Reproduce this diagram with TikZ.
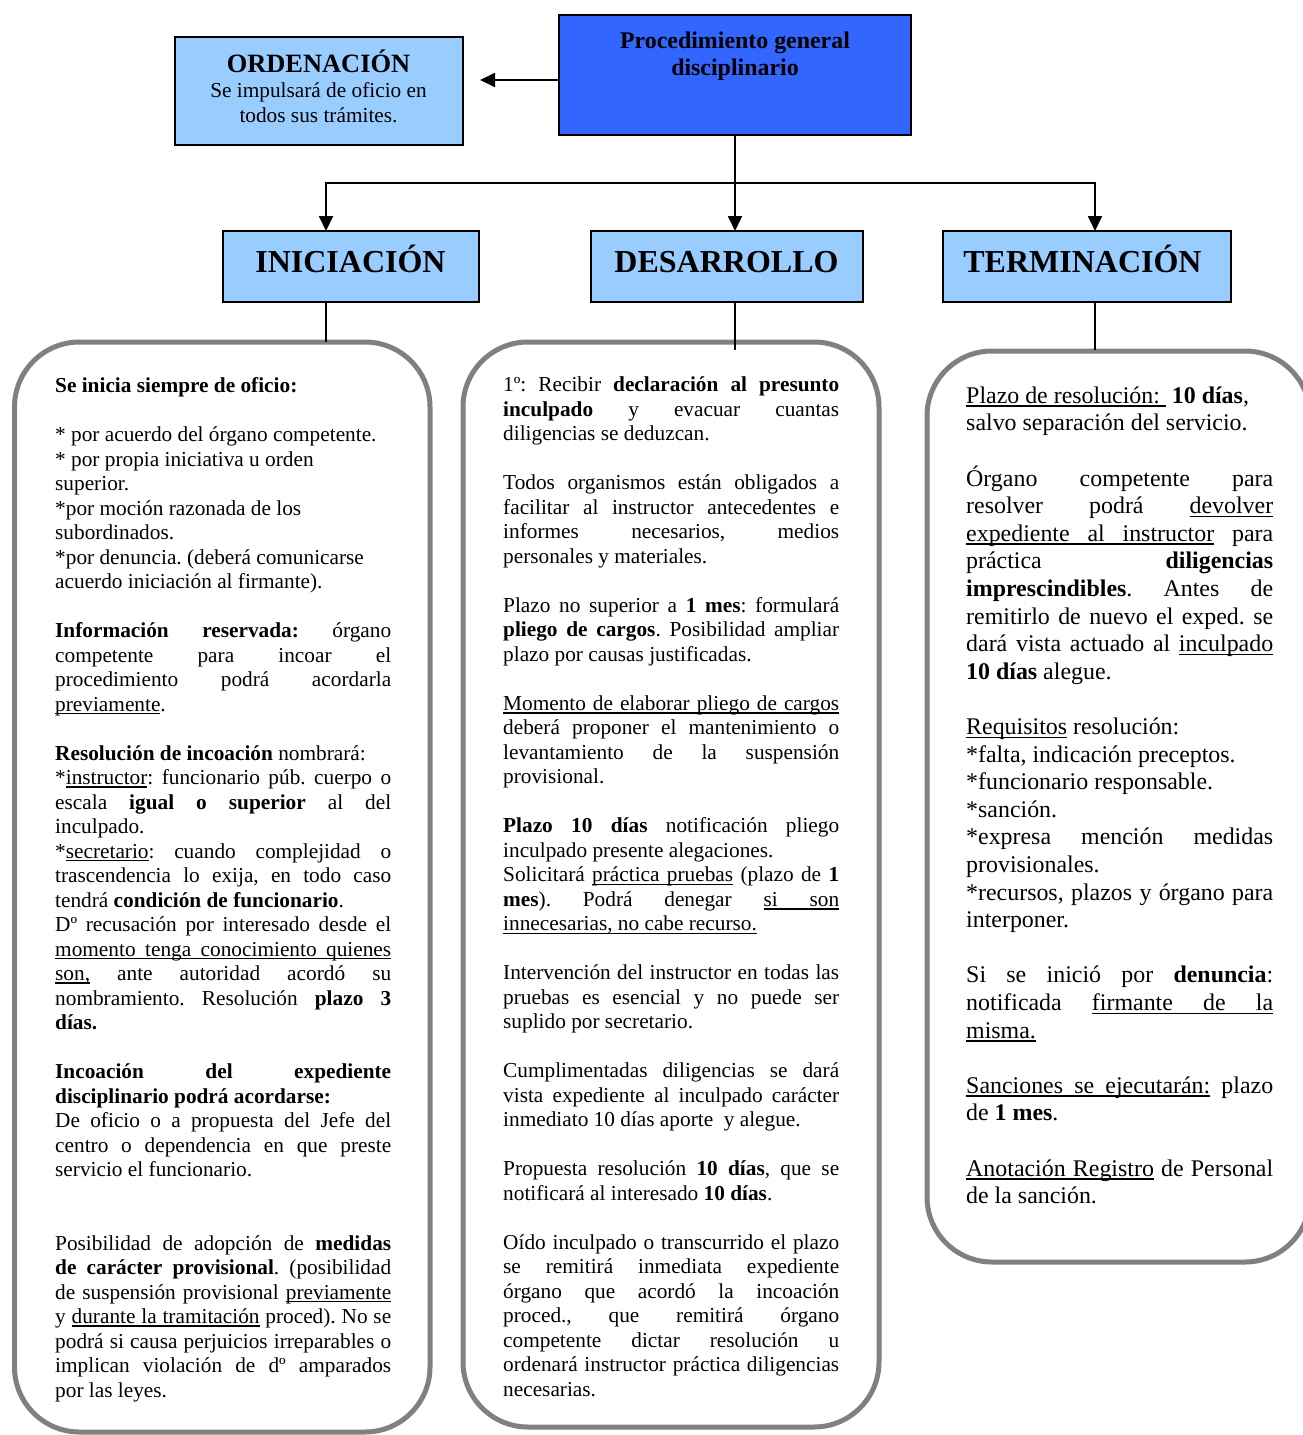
\documentclass[tikz,border=0pt]{standalone}
\usepackage{fontspec}
\setmainfont{Liberation Serif}
\usetikzlibrary{arrows.meta}
\definecolor{lightblu}{HTML}{99CCFF}
\definecolor{darkblu}{HTML}{3366FF}
\definecolor{boxgray}{HTML}{808080}
\newcommand{\colsetup}{\parindent=0pt\parskip=0pt\frenchspacing\tolerance=10000\pretolerance=-1\hyphenpenalty=10000\exhyphenpenalty=10000\emergencystretch=0pt\strut}
\newcommand{\blankln}{\par\vskip\baselineskip}
\newcommand{\ulword}[1]{\leavevmode\setbox0=\hbox{#1}\rlap{\vrule height -0.09em depth 0.16em width\wd0\relax}\box0\relax}
\newcommand{\ulsp}{\leaders\hrule height -0.09em depth 0.16em\hskip\fontdimen2\font plus\fontdimen3\font minus\fontdimen4\font\relax}
\def\ulA#1 #2\ulEnd{\ulword{#1}\ifx\relax#2\relax\else\ulsp\ulA#2\ulEnd\fi}
\newcommand{\myul}[1]{\ulA#1 \ulEnd}
\begin{document}
\begin{tikzpicture}[x=1pt,y=1pt,
  box/.style={draw=black, line width=2pt, inner sep=0pt, outer sep=0pt},
  hdr/.style={box, fill=lightblu, minimum height=71pt},
  rbox/.style={draw=boxgray, line width=5pt, rounded corners=65pt, inner sep=0pt, outer sep=0pt},
  ttl/.style={anchor=base, inner sep=0pt, font=\fontsize{32}{38}\selectfont\bfseries},
  conn/.style={draw=black, line width=1.8pt},
  arr/.style={conn, -{Triangle[length=15pt,width=14pt]}},
  colL/.style={anchor=north west, inner sep=0pt, text width=336pt, align=justify, font=\fontsize{21.3}{24.5}\selectfont},
  colR/.style={anchor=north west, inner sep=0pt, text width=307pt, align=justify, font=\fontsize{23.9}{27.6}\selectfont}]
\path[fill=white, use as bounding box] (0,0) rectangle (1302,-1435);

% top boxes
\node[box, fill=darkblu, minimum width=352pt, minimum height=120pt] (proc) at (735,-75) {};
\node[anchor=base, inner sep=0pt, font=\fontsize{23.9}{27.5}\selectfont\bfseries] (procT1) at (735,-48.2) {Procedimiento general};
\node[anchor=base, inner sep=0pt, font=\fontsize{23.9}{27.5}\selectfont\bfseries] (procT2) at (735,-75.7) {disciplinario};

\node[box, fill=lightblu, minimum width=288pt, minimum height=108pt] (ord) at (319,-91) {};
\node[anchor=base, inner sep=0pt, font=\fontsize{26.4}{30}\selectfont\bfseries] (ordT1) at (318.5,-72.2) {ORDENACIÓN};
\node[anchor=base, inner sep=0pt, font=\fontsize{21.3}{24.5}\selectfont] (ordT2) at (318.5,-97.2) {Se impulsará de oficio en};
\node[anchor=base, inner sep=0pt, font=\fontsize{21.3}{24.5}\selectfont] (ordT3) at (318.5,-122.2) {todos sus trámites.};

% headers
\node[hdr, minimum width=256pt] (ini) at (351,-266.5) {};
\node[hdr, minimum width=272pt] (des) at (727,-266.5) {};
\node[hdr, minimum width=288pt] (ter) at (1087,-266.5) {};
\node[ttl] (iniT) at (350.5,-272.2) {INICIACIÓN};
\node[ttl] (desT) at (726.5,-272.2) {DESARROLLO};
\node[ttl] (terT) at (1082.5,-272.2) {TERMINACIÓN};

% rounded boxes
\node[rbox, minimum width=415.5pt, minimum height=1090pt] (iniBox) at (222.25,-887) {};
\node[rbox, minimum width=416pt, minimum height=1085pt] (desBox) at (671,-884.5) {};
\node[rbox, minimum width=383pt, minimum height=911pt] (terBox) at (1118.5,-806.5) {};

% connectors
\coordinate (split) at (735,-183);
\coordinate (ordTip) at (480,-80);
\coordinate (iniIn) at (326,-231);
\coordinate (terIn) at (1095,-231);
\draw[arr] (proc.west |- ordTip) -- (ordTip);
\draw[conn] (proc.south) -- (split);
\draw[arr] (split) -- (split |- des.north);
\draw[arr] (split) -| (iniIn);
\draw[arr] (split) -| (terIn);
\draw[conn] (iniIn |- ini.south) -- (iniIn |- iniBox.north);
\draw[conn] (split |- des.south) -- ([yshift=-8pt]split |- desBox.north);
\draw[conn] (terIn |- ter.south) -- ([yshift=1pt]terIn |- terBox.north);

% left column text
\node[colL] (iniText) at (55,-375.2) {\colsetup\textbf{Se inicia siempre de oficio:}\blankln
* por acuerdo del órgano competente.\newline
* por propia iniciativa u orden\newline
superior.\newline
*por moción razonada de los\newline
subordinados.\newline
*por denuncia. (deberá comunicarse\newline
acuerdo iniciación al firmante).\blankln
\textbf{Información reservada:} órgano\linebreak
competente para incoar el\linebreak
procedimiento podrá acordarla\linebreak
\myul{previamente}.\blankln
\textbf{Resolución de incoación} nombrará:\newline
*\myul{instructor}: funcionario púb. cuerpo o\linebreak
escala \textbf{igual o superior} al del\linebreak
inculpado.\par
*\myul{secretario}: cuando complejidad o\linebreak
trascendencia lo exija, en todo caso\linebreak
tendrá \textbf{condición de funcionario}.\par
Dº recusación por interesado desde el\linebreak
\myul{momento tenga conocimiento quienes}\linebreak
\myul{son,} ante autoridad acordó su\linebreak
nombramiento. Resolución \textbf{plazo 3}\linebreak
\textbf{días.}\blankln
\textbf{Incoación del expediente\linebreak
disciplinario podrá acordarse:}\newline
De oficio o a propuesta del Jefe del\linebreak
centro o dependencia en que preste\linebreak
servicio el funcionario.\blankln\vskip\baselineskip
Posibilidad de adopción de \textbf{medidas}\linebreak
\textbf{de carácter provisional}. (posibilidad\linebreak
de suspensión provisional \myul{previamente}\linebreak
y \myul{durante la tramitación} proced). No se\linebreak
podrá si causa perjuicios irreparables o\linebreak
implican violación de dº amparados\linebreak
por las leyes.};

% middle column text
\node[colL] (desText) at (503,-374.4) {\colsetup 1º: Recibir \textbf{declaración al presunto}\linebreak
\textbf{inculpado} y evacuar cuantas\linebreak
diligencias se deduzcan.\blankln
Todos organismos están obligados a\linebreak
facilitar al instructor antecedentes e\linebreak
informes necesarios, medios\linebreak
personales y materiales.\blankln
Plazo no superior a \textbf{1 mes}: formulará\linebreak
\textbf{pliego de cargos}. Posibilidad ampliar\linebreak
plazo por causas justificadas.\blankln
\myul{Momento de elaborar pliego de cargos}\linebreak
deberá proponer el mantenimiento o\linebreak
levantamiento de la suspensión\linebreak
provisional.\blankln
\textbf{Plazo 10 días} notificación pliego\linebreak
inculpado presente alegaciones.\par
Solicitará \myul{práctica pruebas} (plazo de \textbf{1}\linebreak
\textbf{mes}). Podrá denegar \myul{si son}\linebreak
\myul{innecesarias, no cabe recurso.}\blankln
Intervención del instructor en todas las\linebreak
pruebas es esencial y no puede ser\linebreak
suplido por secretario.\blankln
Cumplimentadas diligencias se dará\linebreak
vista expediente al inculpado carácter\linebreak
inmediato 10 días aporte\ \ y alegue.\blankln
Propuesta resolución \textbf{10 días}, que se\linebreak
notificará al interesado \textbf{10 días}.\blankln
Oído inculpado o transcurrido el plazo\linebreak
se remitirá inmediata expediente\linebreak
órgano que acordó la incoación\linebreak
proced., que remitirá órgano\linebreak
competente dictar resolución u\linebreak
ordenará instructor práctica diligencias\linebreak
necesarias.};

% right column text
\node[colR] (terText) at (966,-383.7) {\colsetup\myul{Plazo de resolución:\ } \textbf{10 días},\newline
salvo separación del servicio.\blankln
Órgano competente para\linebreak
resolver podrá \myul{devolver}\linebreak
\myul{expediente al instructor} para\linebreak
práctica \textbf{diligencias}\linebreak
\textbf{imprescindibles}. Antes de\linebreak
remitirlo de nuevo el exped. se\linebreak
dará vista actuado al \myul{inculpado}\linebreak
\textbf{10 días} alegue.\blankln
\myul{Requisitos} resolución:\newline
*falta, indicación preceptos.\newline
*funcionario responsable.\newline
*sanción.\par
*expresa mención medidas\linebreak
provisionales.\par
*recursos, plazos y órgano para\linebreak
interponer.\blankln
Si se inició por \textbf{denuncia}:\linebreak
notificada \myul{firmante de la}\linebreak
\myul{misma.}\blankln
\myul{Sanciones se ejecutarán:} plazo\linebreak
de \textbf{1 mes}.\blankln
\myul{Anotación Registro} de Personal\linebreak
de la sanción.};
\end{tikzpicture}
\end{document}
